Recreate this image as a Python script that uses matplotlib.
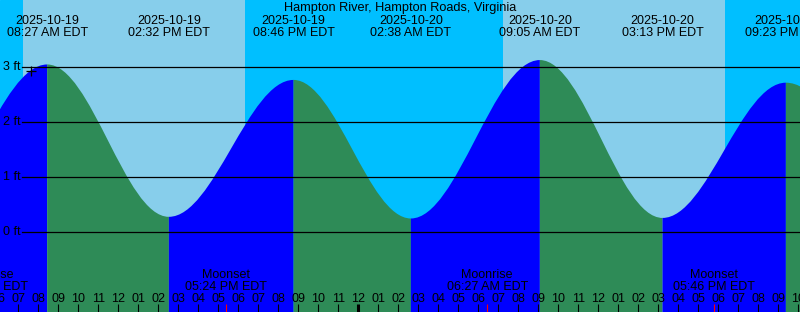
import matplotlib
matplotlib.use('Agg')
import matplotlib.pyplot as plt
from matplotlib.path import Path
from matplotlib.patches import PathPatch
from matplotlib.transforms import blended_transform_factory

# times are hours counted from 2025-10-19 00:00 EDT
tide_hours = [2.0, 8.45, 14.533, 20.767, 26.633, 33.083, 39.217, 45.383, 52.0]
tide_ft = [0.30, 3.04, 0.28, 2.76, 0.25, 3.12, 0.26, 2.71, 0.40]
tide_dates = ['2025-10-19', '2025-10-19', '2025-10-19', '2025-10-20',
              '2025-10-20', '2025-10-20', '2025-10-20']
tide_times = ['08:27 AM EDT', '02:32 PM EDT', '08:46 PM EDT', '02:38 AM EDT',
              '09:05 AM EDT', '03:13 PM EDT', '09:23 PM EDT']

sunrise_hours = [7.25, 31.25]
sunset_hours = [18.365, 42.315]

moon_hours = [5.467, 17.4, 30.45, 41.767]
moon_events = ['Moonrise', 'Moonset', 'Moonrise', 'Moonset']
moon_times = ['05:28 AM EDT', '05:24 PM EDT', '06:27 AM EDT', '05:46 PM EDT']

now_hour = 7.615
now_ft = 2.93

levels_ft = [0, 1, 2, 3]
hour_ticks = list(range(6, 47))

W, H = 800, 312
x0 = 6.09                      # hour at the left edge
ylo, yhi = -1.444, 4.208       # ft at bottom / top edge

plt.rcParams['font.family'] = ['Liberation Sans', 'DejaVu Sans']
fs = 9

fig = plt.figure(figsize=(W / 100, H / 100), dpi=100)
ax = fig.add_axes([0, 0, 1, 1])
ax.set_xlim(x0, x0 + 40)
ax.set_ylim(ylo, yhi)
ax.axis('off')

# sky: night then day spans
ax.add_patch(plt.Rectangle((0, 0), 1, 1, transform=ax.transAxes, color='#00BFFF', zorder=0))
for a, b in zip(sunrise_hours, sunset_hours):
    ax.axvspan(a, b, color='#87CEEB', lw=0, zorder=1)

# tide curve, filled to the bottom, blue when rising, green when falling
k = 0.3634
for i in range(len(tide_hours) - 1):
    t0, t1 = tide_hours[i], tide_hours[i + 1]
    h0, h1 = tide_ft[i], tide_ft[i + 1]
    d = t1 - t0
    verts = [(t0, ylo - 1), (t0, h0), (t0 + k * d, h0), (t1 - k * d, h1), (t1, h1),
             (t1, ylo - 1), (t0, ylo - 1)]
    codes = [Path.MOVETO, Path.LINETO, Path.CURVE4, Path.CURVE4, Path.CURVE4,
             Path.LINETO, Path.CLOSEPOLY]
    col = '#0000FF' if h1 > h0 else '#2E8B57'
    ax.add_patch(PathPatch(Path(verts, codes), facecolor=col, edgecolor='none', zorder=2))

# level lines and labels
for lv in levels_ft:
    ax.axhline(lv, xmin=22 / W, xmax=1, color='black', lw=0.9, zorder=3)
    ax.text(3 / W, lv, '%d ft' % lv, fontsize=fs, va='center', ha='left', zorder=4,
            transform=blended_transform_factory(ax.transAxes, ax.transData))

ax.plot([now_hour], [now_ft], marker='+', color='black', markersize=7, mew=0.9, zorder=4)

tr = blended_transform_factory(ax.transData, ax.transAxes)

def py(p):
    return 1 - p / H

fig.text(0.5, py(11), 'Hampton River, Hampton Roads, Virginia', fontsize=9.2,
         ha='center', va='baseline')
for t, d, s in zip(tide_hours[1:-1], tide_dates, tide_times):
    ax.text(t, py(24), d, fontsize=fs, ha='center', va='baseline', transform=tr, zorder=5)
    ax.text(t, py(36), s, fontsize=fs, ha='center', va='baseline', transform=tr, zorder=5)

for t, e, s in zip(moon_hours, moon_events, moon_times):
    ax.text(t, py(278.3), e, fontsize=fs, ha='center', va='baseline', transform=tr, zorder=5)
    ax.text(t, py(290), s, fontsize=fs, ha='center', va='baseline', transform=tr, zorder=5)

# hour ticks along the bottom
for h in hour_ticks:
    lab = '%02d' % (h % 12 if h % 12 else 12)
    ax.text(h, py(302.3), lab, fontsize=fs, ha='center', va='baseline', transform=tr, zorder=5)
    lw = 2.2 if h % 24 == 0 else 0.8
    ax.vlines(h, 0, py(304), color='black', lw=lw, transform=tr, zorder=5)
ax.vlines(moon_hours, 0, py(304), color='red', lw=0.8, transform=tr, zorder=6)

fig.savefig('out.png', dpi=100)
